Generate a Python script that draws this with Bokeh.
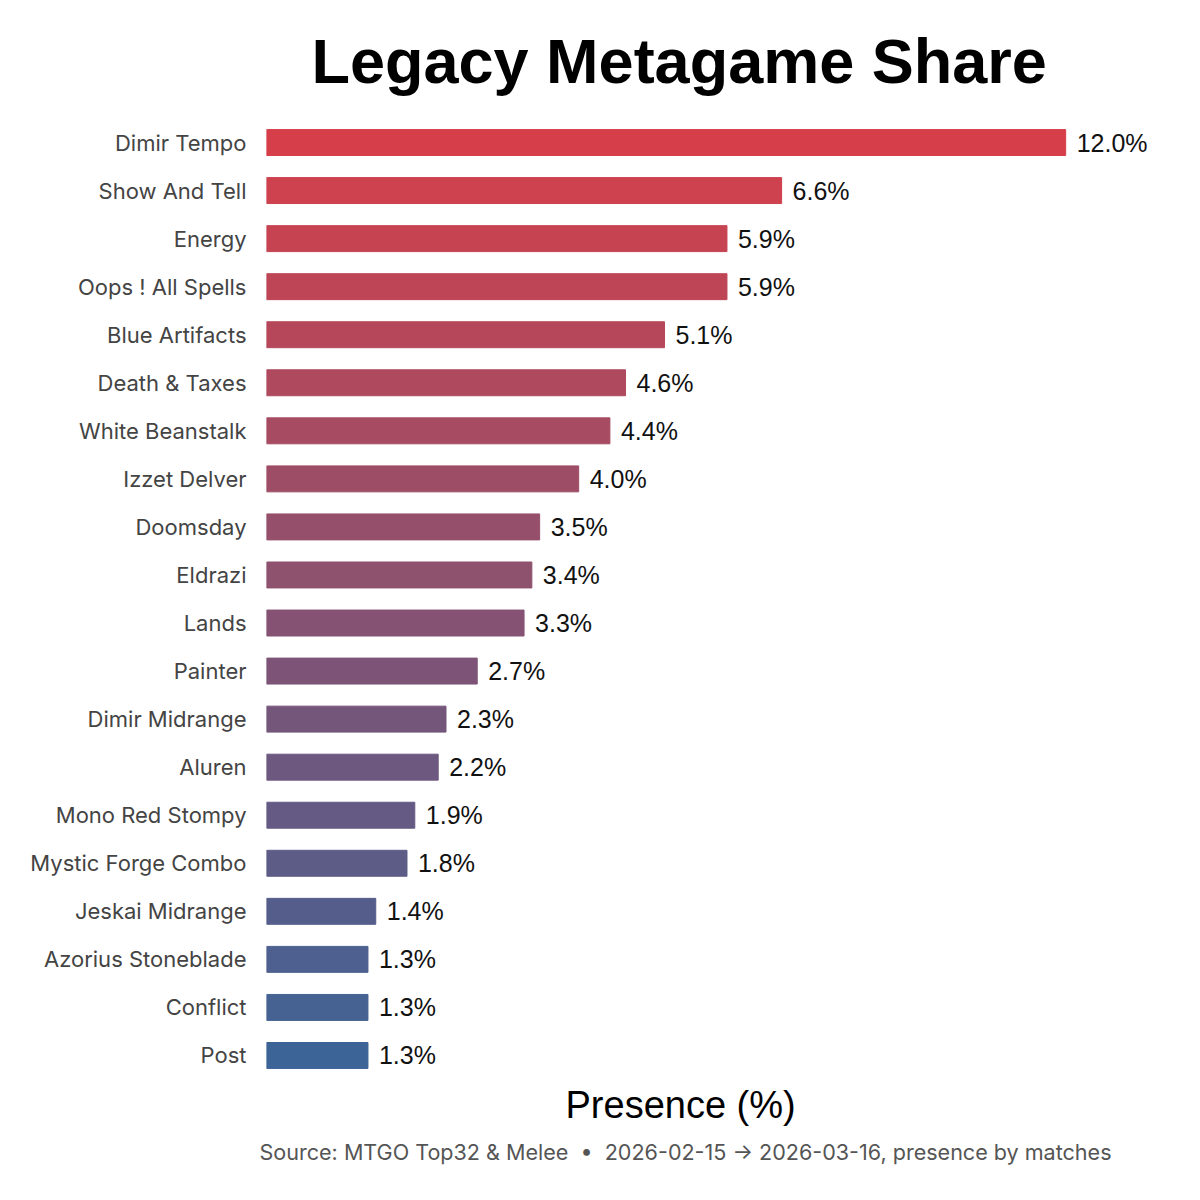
import numpy as np
from bokeh.plotting import figure
from bokeh.models import ColumnDataSource, FactorRange, Range1d, LabelSet, Title
from bokeh.core.properties import value
from bokeh.embed import file_html
from bokeh.resources import INLINE

# Data
archetypes = ["Dimir Tempo", "Show And Tell", "Energy", "Oops ! All Spells", "Blue Artifacts",
              "Death & Taxes", "White Beanstalk", "Izzet Delver", "Doomsday", "Eldrazi",
              "Lands", "Painter", "Dimir Midrange", "Aluren", "Mono Red Stompy",
              "Mystic Forge Combo", "Jeskai Midrange", "Azorius Stoneblade", "Conflict", "Post"]
presence = [12.0, 6.6, 5.9, 5.9, 5.1, 4.6, 4.4, 4.0, 3.5, 3.4,
            3.3, 2.7, 2.3, 2.2, 1.9, 1.8, 1.4, 1.3, 1.3, 1.3]

X_CAP = 10.24   # bars longer than this are cut at the cap
X_END = 11.66

# red -> blue gradient down the list
top_rgb = np.array([214, 63, 74])
bot_rgb = np.array([61, 100, 151])
t = np.linspace(0, 1, len(archetypes))
colors = ["#%02x%02x%02x" % tuple(int(round(c)) for c in top_rgb + (bot_rgb - top_rgb) * k) for k in t]

shown = [min(v, X_CAP) for v in presence]
source = ColumnDataSource(dict(
    name=archetypes,
    presence=presence,
    shown=shown,
    label=["%.1f%%" % v for v in presence],
    color=colors,
))

p = figure(width=1184, height=1184, output_backend="svg", toolbar_location=None,
           y_range=FactorRange(*reversed(archetypes), range_padding=0),
           x_range=Range1d(0, X_END),
           min_border_left=266, min_border_right=8, min_border_top=10, min_border_bottom=105)

p.hbar(y="name", right="shown", left=0, height=0.54, color="color", source=source)

labels = LabelSet(x="shown", y="name", text="label", source=source, x_offset=11,
                  text_baseline="middle", text_font=value("Liberation Sans"),
                  text_font_size=value("25px"), text_color="#111111")
p.add_layout(labels)

p.title.text = "Legacy Metagame Share"
p.title.align = "left"
p.title.offset = 45
p.title.text_font = "Liberation Sans"
p.title.text_font_style = "bold"
p.title.text_font_size = "63px"
p.title.text_color = "#000000"
p.title.standoff = 46

p.xaxis.visible = False

p.add_layout(Title(text="Presence (%)", align="left", offset=299,
                   text_font="Liberation Sans", text_font_size="38px",
                   text_color="#000000", text_font_style="normal", standoff=4), "below")
p.add_layout(Title(text="Source: MTGO Top32 & Melee \u00a0\u2022\u00a0 2026-02-15 \u2192 2026-03-16, presence by matches",
                   align="left", offset=-7, text_font="Inter", text_font_size="21.55px",
                   text_color="#555555", text_font_style="normal", standoff=18), "below")

p.yaxis.axis_line_color = None
p.yaxis.major_tick_line_color = None
p.yaxis.minor_tick_line_color = None
p.yaxis.major_tick_out = 0
p.yaxis.major_label_standoff = 20
p.yaxis.major_label_text_font = "Inter"
p.yaxis.major_label_text_font_size = "22px"
p.yaxis.major_label_text_color = "#444444"

p.grid.visible = False
p.outline_line_color = None
p.background_fill_color = "white"

open("out.html", "w").write(file_html(p, INLINE))
